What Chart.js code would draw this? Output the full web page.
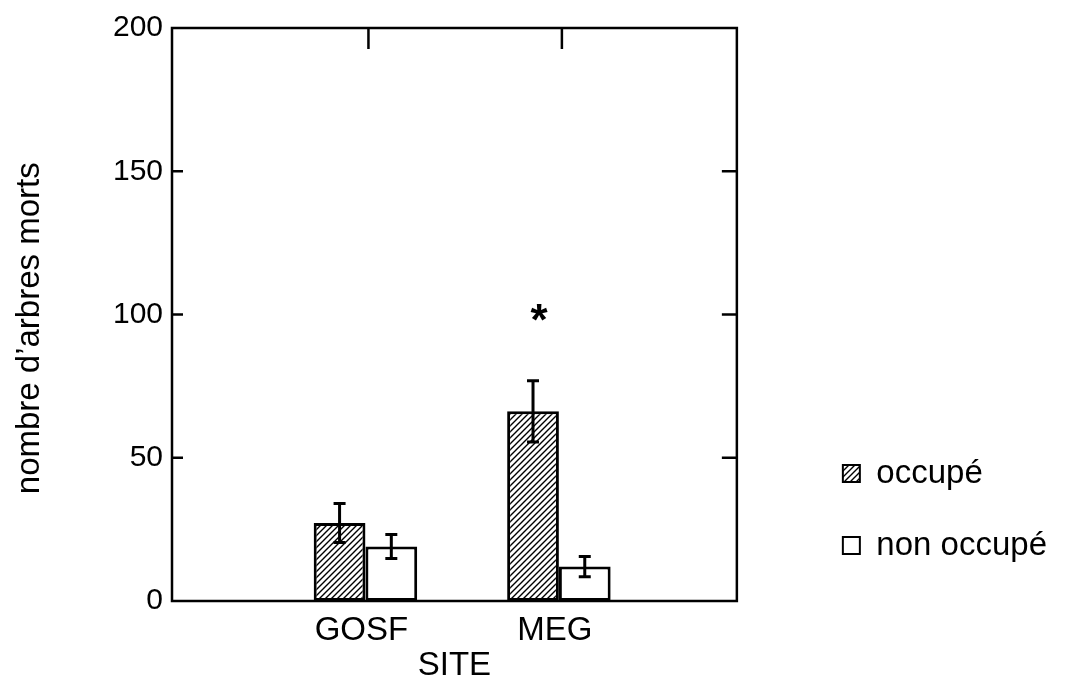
<!DOCTYPE html>
<html>
<head>
<meta charset="utf-8">
<script src="https://cdn.jsdelivr.net/npm/chart.js@4"></script>
<style>
  html, body { margin: 0; padding: 0; background: #fff; }
  #wrap { width: 1065px; height: 692px; }
</style>
</head>
<body>
<div id="wrap"><canvas id="chart" width="1065" height="692"></canvas></div>
<script>
// data
const sites = ["GOSF", "MEG"];
const sitePos = [1, 2];
const occupe = [27.2, 66.2];
const occupeErr = [6.8, 10.7];
const nonOccupe = [19, 12];
const nonOccupeErr = [4.2, 3.5];
const signif = [null, 101]; // asterisk above occupé
const yTicks = [0, 50, 100, 150, 200];

Chart.defaults.font.family = '"Liberation Sans", Arial, sans-serif';
Chart.defaults.color = "#000";

function hatch() {
  const c = document.createElement("canvas");
  c.width = 6; c.height = 6;
  const g = c.getContext("2d");
  g.fillStyle = "#fff";
  g.fillRect(0, 0, 6, 6);
  g.strokeStyle = "#000";
  g.lineWidth = 1.4;
  g.beginPath();
  g.moveTo(-1, 7); g.lineTo(7, -1);
  g.moveTo(-4, 4); g.lineTo(4, -4);
  g.moveTo(2, 10); g.lineTo(10, 2);
  g.stroke();
  return g.createPattern(c, "repeat");
}

const toPoints = arr => arr.map((v, i) => ({ x: sitePos[i], y: v }));

// box + inward ticks like the original plot frame
const framePlugin = {
  id: "frame",
  afterDatasetsDraw(chart) {
    const { ctx, chartArea: a, scales } = chart;
    ctx.save();
    ctx.strokeStyle = "#000";
    ctx.lineWidth = 2.5;
    ctx.strokeRect(a.left, a.top, a.right - a.left, a.bottom - a.top);
    ctx.beginPath();
    yTicks.forEach(v => {
      if (v === 0 || v === 200) return;
      const y = scales.y.getPixelForValue(v);
      ctx.moveTo(a.left, y); ctx.lineTo(a.left + 11, y);
      ctx.moveTo(a.right, y); ctx.lineTo(a.right - 15, y);
    });
    sitePos.forEach(p => {
      const x = scales.x.getPixelForValue(p) + 3;
      ctx.moveTo(x, a.top); ctx.lineTo(x, a.top + 21);
    });
    ctx.stroke();
    ctx.restore();
  }
};

const errorPlugin = {
  id: "errors",
  afterDatasetsDraw(chart) {
    const { ctx, scales } = chart;
    const vals = [occupe, nonOccupe];
    const errs = [occupeErr, nonOccupeErr];
    ctx.save();
    ctx.strokeStyle = "#000";
    ctx.lineWidth = 3;
    vals.forEach((arr, d) => {
      chart.getDatasetMeta(d).data.forEach((bar, i) => {
        const top = scales.y.getPixelForValue(arr[i] + errs[d][i]);
        const bot = scales.y.getPixelForValue(arr[i] - errs[d][i]);
        ctx.beginPath();
        ctx.moveTo(bar.x, top); ctx.lineTo(bar.x, bot);
        ctx.moveTo(bar.x - 6, top); ctx.lineTo(bar.x + 6, top);
        ctx.moveTo(bar.x - 6, bot); ctx.lineTo(bar.x + 6, bot);
        ctx.stroke();
      });
    });
    // significance star
    ctx.fillStyle = "#000";
    ctx.font = 'bold 44px "Liberation Sans"';
    ctx.textAlign = "center";
    ctx.textBaseline = "middle";
    chart.getDatasetMeta(0).data.forEach((bar, i) => {
      if (signif[i] == null) return;
      ctx.fillText("*", bar.x + 6, scales.y.getPixelForValue(signif[i]) + 11);
    });
    ctx.restore();
  }
};

new Chart(document.getElementById("chart"), {
  type: "bar",
  data: {
    datasets: [
      {
        label: "occupé",
        data: toPoints(occupe),
        backgroundColor: hatch(),
        borderColor: "#000",
        borderWidth: 3,
        borderSkipped: false
      },
      {
        label: "non occupé",
        data: toPoints(nonOccupe),
        backgroundColor: "#fff",
        borderColor: "#000",
        borderWidth: 3,
        borderSkipped: false
      }
    ]
  },
  options: {
    responsive: false,
    animation: false,
    devicePixelRatio: 1,
    categoryPercentage: 0.535,
    barPercentage: 1,
    layout: { padding: { top: 28, right: 8, left: 0, bottom: 0 } },
    plugins: {
      tooltip: { enabled: false },
      legend: {
        position: "right",
        align: "end",
        fullSize: false,
        maxWidth: 320,
        labels: {
          boxWidth: 17,
          boxHeight: 17,
          padding: 39,
          font: { size: 33 },
          color: "#000",
          generateLabels(chart) {
            const items = Chart.defaults.plugins.legend.labels.generateLabels(chart);
            items.forEach(it => { it.lineWidth = 2; it.strokeStyle = "#000"; });
            return items;
          }
        }
      }
    },
    scales: {
      x: {
        type: "linear",
        min: 0,
        max: 2.92,
        offset: false,
        grid: { display: false, drawTicks: false },
        border: { display: false },
        afterBuildTicks(s) { s.ticks = sitePos.map(v => ({ value: v })); },
        ticks: {
          font: { size: 33 }, padding: 10, maxRotation: 0, labelOffset: -4,
          callback: v => sites[sitePos.indexOf(v)]
        },
        title: { display: true, text: "SITE", font: { size: 33 }, padding: { top: 0, bottom: 6 } },
        afterFit(s) { s.height = 91; }
      },
      y: {
        min: 0,
        max: 200,
        grid: { display: false, drawTicks: false },
        border: { display: false },
        ticks: { stepSize: 50, font: { size: 30 }, padding: 9 },
        title: { display: true, text: "nombre d’arbres morts   ", font: { size: 33 }, padding: { top: 10, bottom: 0 } },
        afterFit(s) { s.width = 172; }
      },
      y2: {
        position: "right",
        min: 0,
        max: 200,
        grid: { display: false, drawTicks: false },
        border: { display: false },
        ticks: { display: false },
        afterFit(s) { s.width = 67; }
      }
    }
  },
  plugins: [framePlugin, errorPlugin]
});
</script>
</body>
</html>
